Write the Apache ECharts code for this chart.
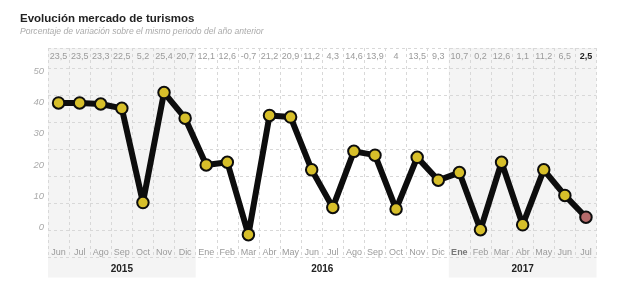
<!DOCTYPE html>
<html>
<head>
<meta charset="utf-8">
<script src="https://cdn.jsdelivr.net/npm/echarts@6/dist/echarts.min.js"></script>
<style>html,body{margin:0;padding:0;background:#fff}#c{width:640px;height:293px}</style>
</head>
<body>
<div id="c"></div>
<script>
const months = ['Jun','Jul','Ago','Sep','Oct','Nov','Dic','Ene','Feb','Mar','Abr','May','Jun','Jul','Ago','Sep','Oct','Nov','Dic','Ene','Feb','Mar','Abr','May','Jun','Jul'];
const values = [23.5,23.5,23.3,22.5,5.2,25.4,20.7,12.1,12.6,-0.7,21.2,20.9,11.2,4.3,14.6,13.9,4,13.5,9.3,10.7,0.2,12.6,1.1,11.2,6.5,2.5];
const years = ['2015','2016','2017'];
const yTicks = [0,10,20,30,40,50];

const FONT = "'Liberation Sans', Arial, sans-serif";
const n = months.length;
const starts = [0];
months.forEach((m,i)=>{ if (m==='Ene' && i>0) starts.push(i); });
const spans = starts.map((s,k)=>[s, k+1<starts.length ? starts[k+1] : n]);
const lastYearStart = starts[starts.length-1];
const fmt = v => String(v).replace('.', ',');

const L = 48, R = 43.5;
const chart = echarts.init(document.getElementById('c'), null, {renderer:'canvas'});
const dash = {type:[3,3], color:'#d8d8d8', width:1};

chart.setOption({
  animation:false,
  textStyle:{fontFamily:FONT},
  title:[
    {text:'Evolución mercado de turismos', left:15, top:8, textStyle:{fontSize:11.5, fontWeight:'bold', color:'#222', fontFamily:FONT}},
    {text:'Porcentaje de variación sobre el mismo periodo del año anterior', left:15, top:22, textStyle:{fontSize:8.6, fontStyle:'italic', fontWeight:'normal', color:'#aaa', fontFamily:FONT}}
  ],
  grid:[
    {left:L, right:R, top:71, bottom:65.3},
    {left:L, right:R, top:48, bottom:35.5},
    {left:L, right:R, top:48, bottom:35.5},
    {left:L, right:R, top:48, bottom:15.5}
  ],
  xAxis:[
    {type:'category', gridIndex:0, data:months, boundaryGap:true, show:false},
    {type:'value', gridIndex:1, min:0, max:n, interval:1, axisLine:{show:false}, axisTick:{show:false}, axisLabel:{show:false}, splitLine:{show:true, lineStyle:dash}},
    {type:'category', gridIndex:2, position:'top', data:values.map(fmt), axisLine:{show:false}, axisTick:{show:false},
      axisLabel:{inside:true, margin:4, interval:0, fontSize:9, color:'#9a9a9a',
        formatter:(v,i)=> i===n-1 ? '{b|'+v+'}' : v,
        rich:{b:{fontWeight:'bold', color:'#222', fontSize:9}}}},
    {type:'category', gridIndex:2, position:'bottom', data:months, axisLine:{show:false}, axisTick:{show:false},
      axisLabel:{inside:true, margin:0, interval:0, fontSize:9, color:'#9a9a9a',
        formatter:(v,i)=> i===lastYearStart ? '{b|'+v+'}' : v,
        rich:{b:{fontWeight:'bold', color:'#777', fontSize:9}}}},
    {type:'value', gridIndex:3, min:0, max:n, show:false}
  ],
  yAxis:[
    {type:'value', gridIndex:0, min:yTicks[0], max:yTicks[yTicks.length-1], interval:10, position:'left',
      axisLine:{show:false}, axisTick:{show:false}, splitLine:{show:false},
      axisLabel:{margin:4, fontSize:9.5, fontStyle:'italic', color:'#aaa'}},
    {type:'value', gridIndex:0, min:0.576, max:29.36, show:false},
    {type:'value', gridIndex:1, min:0, max:7.759, interval:1, axisLine:{show:false}, axisTick:{show:false}, axisLabel:{show:false}, splitLine:{show:true, lineStyle:dash}},
    {type:'value', gridIndex:2, show:false},
    {type:'value', gridIndex:3, min:0, max:1, show:false}
  ],
  series:[
    {type:'line', xAxisIndex:4, yAxisIndex:4, data:[], silent:true, z:-10,
      markArea:{silent:true, z:-10,
        label:{position:'insideBottom', distance:3, fontSize:10, fontWeight:'bold', color:'#222', fontFamily:FONT},
        data: spans.map((s,k)=>[
          {name:years[k], xAxis:s[0], itemStyle:{color: k===1 ? 'rgba(255,255,255,0)' : '#f4f4f4'}},
          {xAxis:s[1]}
        ])}
    },
    {type:'line', xAxisIndex:0, yAxisIndex:1, data:values.map((v,i)=> i===n-1 ? {value:v, itemStyle:{color:'#b56a6a'}} : v),
      clip:false, z:5, symbol:'circle', symbolSize:11.5, showAllSymbol:true,
      lineStyle:{color:'#0d0d0d', width:6, join:'round'},
      itemStyle:{color:'#d7bf2a', borderColor:'#0d0d0d', borderWidth:2}}
  ]
});
</script>
</body>
</html>
